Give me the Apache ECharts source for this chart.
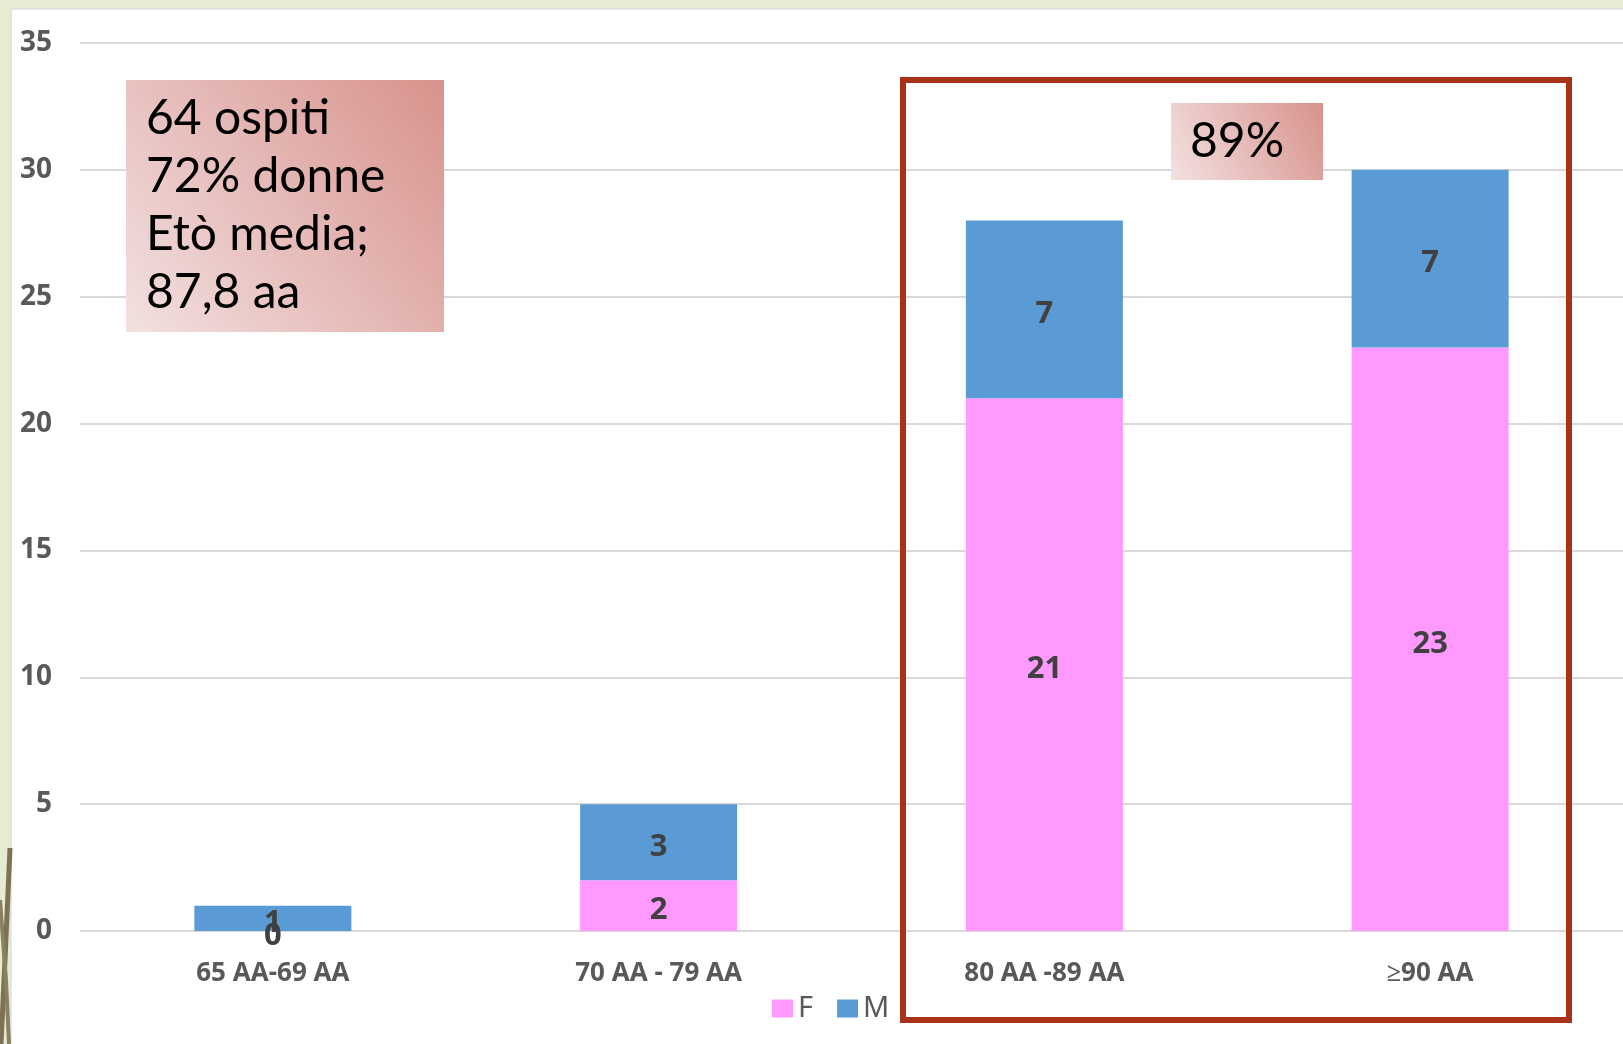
<!DOCTYPE html>
<html>
<head>
<meta charset="utf-8">
<style>
html,body{margin:0;padding:0;background:#e6ebd3;}
#chart{width:1623px;height:1044px;}
</style>
<script src="https://cdn.jsdelivr.net/npm/echarts@6/dist/echarts.min.js"></script>
</head>
<body>
<div id="chart"></div>
<script>
// ---- data ----
var categories = ['65 AA-69 AA', '70 AA - 79 AA', '80 AA -89 AA', '≥90 AA'];
var femaleValues = [0, 2, 21, 23];
var maleValues = [1, 3, 7, 7];
var seriesNames = ['F', 'M'];
var infoLines = ['64 ospiti', '72% donne', 'Etò media;', '87,8 aa'];
var highlightText = '89%';

var chart = echarts.init(document.getElementById('chart'), null, {renderer: 'canvas'});

var boxGradient = new echarts.graphic.LinearGradient(0, 1, 1, 0, [
  {offset: 0, color: '#f2e1e1'},
  {offset: 1, color: '#d8928c'}
]);
var boxGradient2 = new echarts.graphic.LinearGradient(0, 1, 1, 0, [
  {offset: 0, color: '#f2e1e1'},
  {offset: 1, color: '#d8928c'}
]);

var labelStyle = {
  show: true,
  position: 'inside',
  offset: [0, 5],
  fontFamily: 'Noto Sans',
  fontWeight: 'bold',
  fontSize: 31,
  color: '#404040'
};

var option = {
  backgroundColor: '#e6ebd3',
  animation: false,
  grid: {left: 80, right: 0, top: 43, bottom: 113, containLabel: false},
  legend: {
    data: seriesNames,
    left: 767,
    top: 989,
    itemWidth: 21,
    itemHeight: 18,
    itemGap: 24,
    icon: 'rect',
    textStyle: {fontFamily: 'Noto Sans', fontSize: 29, color: '#595959'}
  },
  xAxis: {
    type: 'category',
    data: categories,
    axisLine: {show: false},
    axisTick: {show: false},
    axisLabel: {
      margin: 30,
      fontFamily: 'Noto Sans',
      fontWeight: 'bold',
      fontSize: 26,
      color: '#595959'
    }
  },
  yAxis: {
    type: 'value',
    min: 0,
    max: 35,
    interval: 5,
    axisLine: {show: false},
    axisTick: {show: false},
    axisLabel: {
      margin: 28,
      fontFamily: 'Noto Sans',
      fontWeight: 'bold',
      fontSize: 28,
      color: '#595959'
    },
    splitLine: {lineStyle: {color: '#d9d9d9', width: 2}}
  },
  series: [
    {
      name: seriesNames[0],
      type: 'bar',
      stack: 'total',
      barWidth: 157,
      data: femaleValues,
      itemStyle: {color: '#ff99ff'},
      label: labelStyle
    },
    {
      name: seriesNames[1],
      type: 'bar',
      stack: 'total',
      barWidth: 157,
      data: maleValues,
      itemStyle: {color: '#5b9bd5'},
      label: labelStyle
    }
  ],
  graphic: [
    {
      type: 'rect', z: -100, silent: true,
      shape: {x: 11, y: 9, width: 1640, height: 1060},
      style: {fill: '#ffffff', stroke: '#d4d4d4', lineWidth: 1}
    },
    {
      type: 'polyline', z: -50, silent: true,
      shape: {points: [[1, 1044], [5, 960], [10, 848]]},
      style: {stroke: '#7d7252', lineWidth: 5, fill: null}
    },
    {
      type: 'polyline', z: -50, silent: true,
      shape: {points: [[0, 900], [6, 980], [9, 1044]]},
      style: {stroke: '#8a8062', lineWidth: 4, fill: null}
    },
    {
      type: 'rect', z: 100, silent: true,
      shape: {x: 126, y: 80, width: 318, height: 252},
      style: {fill: boxGradient}
    },
    {
      type: 'text', z: 101, silent: true,
      left: 146, top: 90,
      style: {
        text: infoLines.join('\n'),
        font: '48px Lato',
        lineHeight: 58,
        fill: '#000000'
      }
    },
    {
      type: 'rect', z: 100, silent: true,
      shape: {x: 1171, y: 103, width: 152, height: 77},
      style: {fill: boxGradient2}
    },
    {
      type: 'text', z: 101, silent: true,
      left: 1190, top: 118,
      style: {
        text: highlightText,
        font: '48px Lato',
        fill: '#000000'
      }
    },
    {
      type: 'rect', z: 100, silent: true,
      shape: {x: 903, y: 80, width: 666, height: 940},
      style: {fill: null, stroke: '#a83218', lineWidth: 6}
    }
  ]
};
chart.setOption(option);
</script>
</body>
</html>
